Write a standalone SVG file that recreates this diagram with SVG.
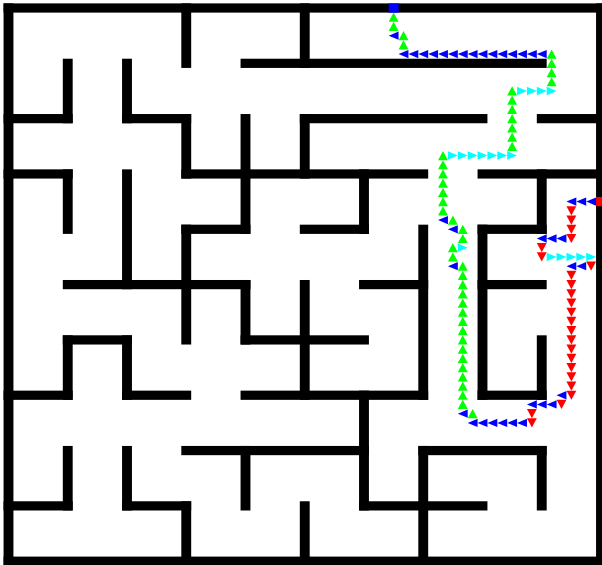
<svg xmlns="http://www.w3.org/2000/svg" xmlns:xlink="http://www.w3.org/1999/xlink" width="602" height="565" viewBox="0 0 602 565">
<style>
.w{fill:#000}
.g{fill:#00ff00}
.b{fill:#0000ff}
.c{fill:#00ffff}
.r{fill:#ff0000}
</style>
<defs>
<path id="up" class="g" d="M0.5,0 L1,1 L0,1 Z"/>
<path id="dn" class="r" d="M0,0 L1,0 L0.5,1 Z"/>
<path id="lf" class="b" d="M0,0.5 L1,0.05 L1,0.95 Z"/>
<path id="rt" class="c" d="M0,0.05 L1,0.5 L0,0.95 Z"/>
</defs>
<rect x="0" y="0" width="602" height="565" fill="#fff"/>
<g id="maze" transform="translate(3.56 3.39) scale(9.875 9.22)">
<g id="walls" class="w">
<rect x="0" y="0" width="61" height="1"/>
<rect x="0" y="60" width="61" height="1"/>
<rect x="0" y="0" width="1" height="61"/>
<rect x="60" y="0" width="1" height="61"/>
<rect x="24" y="6" width="31" height="1"/>
<rect x="0" y="12" width="7" height="1"/>
<rect x="12" y="12" width="7" height="1"/>
<rect x="30" y="12" width="19" height="1"/>
<rect x="54" y="12" width="7" height="1"/>
<rect x="0" y="18" width="7" height="1"/>
<rect x="18" y="18" width="25" height="1"/>
<rect x="48" y="18" width="13" height="1"/>
<rect x="18" y="24" width="7" height="1"/>
<rect x="30" y="24" width="7" height="1"/>
<rect x="48" y="24" width="7" height="1"/>
<rect x="6" y="30" width="19" height="1"/>
<rect x="36" y="30" width="7" height="1"/>
<rect x="48" y="30" width="7" height="1"/>
<rect x="6" y="36" width="7" height="1"/>
<rect x="24" y="36" width="13" height="1"/>
<rect x="0" y="42" width="7" height="1"/>
<rect x="12" y="42" width="7" height="1"/>
<rect x="24" y="42" width="19" height="1"/>
<rect x="48" y="42" width="7" height="1"/>
<rect x="18" y="48" width="19" height="1"/>
<rect x="42" y="48" width="13" height="1"/>
<rect x="0" y="54" width="7" height="1"/>
<rect x="12" y="54" width="7" height="1"/>
<rect x="36" y="54" width="13" height="1"/>
<rect x="6" y="6" width="1" height="7"/>
<rect x="6" y="18" width="1" height="7"/>
<rect x="6" y="36" width="1" height="7"/>
<rect x="6" y="48" width="1" height="7"/>
<rect x="12" y="6" width="1" height="7"/>
<rect x="12" y="18" width="1" height="13"/>
<rect x="12" y="36" width="1" height="7"/>
<rect x="12" y="48" width="1" height="7"/>
<rect x="18" y="0" width="1" height="7"/>
<rect x="18" y="12" width="1" height="7"/>
<rect x="18" y="24" width="1" height="13"/>
<rect x="18" y="54" width="1" height="7"/>
<rect x="24" y="12" width="1" height="13"/>
<rect x="24" y="30" width="1" height="7"/>
<rect x="24" y="48" width="1" height="7"/>
<rect x="30" y="0" width="1" height="7"/>
<rect x="30" y="12" width="1" height="7"/>
<rect x="30" y="30" width="1" height="13"/>
<rect x="30" y="54" width="1" height="7"/>
<rect x="36" y="18" width="1" height="7"/>
<rect x="36" y="42" width="1" height="13"/>
<rect x="42" y="24" width="1" height="19"/>
<rect x="42" y="48" width="1" height="13"/>
<rect x="48" y="24" width="1" height="19"/>
<rect x="54" y="18" width="1" height="7"/>
<rect x="54" y="36" width="1" height="7"/>
<rect x="54" y="48" width="1" height="7"/>
</g>
<g id="path">
<rect id="start" class="b" x="39" y="0" width="1" height="1"/>
<rect id="end" class="r" x="60" y="21" width="1" height="1"/>
<use href="#up" x="39" y="1"/><use href="#up" x="39" y="2"/>
<use href="#up" x="40" y="3"/><use href="#up" x="40" y="4"/>
<use href="#up" x="55" y="5"/><use href="#up" x="55" y="6"/><use href="#up" x="55" y="7"/><use href="#up" x="55" y="8"/>
<use href="#up" x="51" y="9"/><use href="#up" x="51" y="10"/><use href="#up" x="51" y="11"/><use href="#up" x="51" y="12"/><use href="#up" x="51" y="13"/><use href="#up" x="51" y="14"/><use href="#up" x="51" y="15"/>
<use href="#up" x="44" y="16"/><use href="#up" x="44" y="17"/><use href="#up" x="44" y="18"/><use href="#up" x="44" y="19"/><use href="#up" x="44" y="20"/><use href="#up" x="44" y="21"/><use href="#up" x="44" y="22"/>
<use href="#up" x="45" y="23"/><use href="#up" x="46" y="24"/><use href="#up" x="46" y="25"/>
<use href="#up" x="45" y="26"/><use href="#up" x="45" y="27"/>
<use href="#up" x="46" y="28"/><use href="#up" x="46" y="29"/><use href="#up" x="46" y="30"/><use href="#up" x="46" y="31"/><use href="#up" x="46" y="32"/><use href="#up" x="46" y="33"/><use href="#up" x="46" y="34"/><use href="#up" x="46" y="35"/>
<use href="#up" x="46" y="36"/><use href="#up" x="46" y="37"/><use href="#up" x="46" y="38"/><use href="#up" x="46" y="39"/><use href="#up" x="46" y="40"/><use href="#up" x="46" y="41"/><use href="#up" x="46" y="42"/><use href="#up" x="46" y="43"/>
<use href="#up" x="47" y="44"/>
<use href="#lf" x="39" y="3"/>
<use href="#lf" x="40" y="5"/><use href="#lf" x="41" y="5"/><use href="#lf" x="42" y="5"/><use href="#lf" x="43" y="5"/><use href="#lf" x="44" y="5"/><use href="#lf" x="45" y="5"/><use href="#lf" x="46" y="5"/><use href="#lf" x="47" y="5"/>
<use href="#lf" x="48" y="5"/><use href="#lf" x="49" y="5"/><use href="#lf" x="50" y="5"/><use href="#lf" x="51" y="5"/><use href="#lf" x="52" y="5"/><use href="#lf" x="53" y="5"/><use href="#lf" x="54" y="5"/>
<use href="#lf" x="44" y="23"/><use href="#lf" x="45" y="24"/><use href="#lf" x="45" y="28"/><use href="#lf" x="46" y="44"/>
<use href="#lf" x="47" y="45"/><use href="#lf" x="48" y="45"/><use href="#lf" x="49" y="45"/><use href="#lf" x="50" y="45"/><use href="#lf" x="51" y="45"/><use href="#lf" x="52" y="45"/>
<use href="#lf" x="53" y="43"/><use href="#lf" x="54" y="43"/><use href="#lf" x="55" y="43"/><use href="#lf" x="56" y="42"/>
<use href="#lf" x="57" y="28"/><use href="#lf" x="58" y="28"/>
<use href="#lf" x="54" y="25"/><use href="#lf" x="55" y="25"/><use href="#lf" x="56" y="25"/>
<use href="#lf" x="57" y="21"/><use href="#lf" x="58" y="21"/><use href="#lf" x="59" y="21"/>
<use href="#rt" x="52" y="9"/><use href="#rt" x="53" y="9"/><use href="#rt" x="54" y="9"/><use href="#rt" x="55" y="9"/>
<use href="#rt" x="45" y="16"/><use href="#rt" x="46" y="16"/><use href="#rt" x="47" y="16"/><use href="#rt" x="48" y="16"/><use href="#rt" x="49" y="16"/><use href="#rt" x="50" y="16"/><use href="#rt" x="51" y="16"/>
<use href="#rt" x="46" y="26"/>
<use href="#rt" x="55" y="27"/><use href="#rt" x="56" y="27"/><use href="#rt" x="57" y="27"/><use href="#rt" x="58" y="27"/><use href="#rt" x="59" y="27"/>
<use href="#dn" x="53" y="44"/><use href="#dn" x="53" y="45"/><use href="#dn" x="56" y="43"/>
<use href="#dn" x="57" y="29"/><use href="#dn" x="57" y="30"/><use href="#dn" x="57" y="31"/><use href="#dn" x="57" y="32"/><use href="#dn" x="57" y="33"/><use href="#dn" x="57" y="34"/><use href="#dn" x="57" y="35"/>
<use href="#dn" x="57" y="36"/><use href="#dn" x="57" y="37"/><use href="#dn" x="57" y="38"/><use href="#dn" x="57" y="39"/><use href="#dn" x="57" y="40"/><use href="#dn" x="57" y="41"/><use href="#dn" x="57" y="42"/>
<use href="#dn" x="59" y="28"/><use href="#dn" x="54" y="26"/><use href="#dn" x="54" y="27"/>
<use href="#dn" x="57" y="22"/><use href="#dn" x="57" y="23"/><use href="#dn" x="57" y="24"/><use href="#dn" x="57" y="25"/>
</g>
</g>
</svg>
